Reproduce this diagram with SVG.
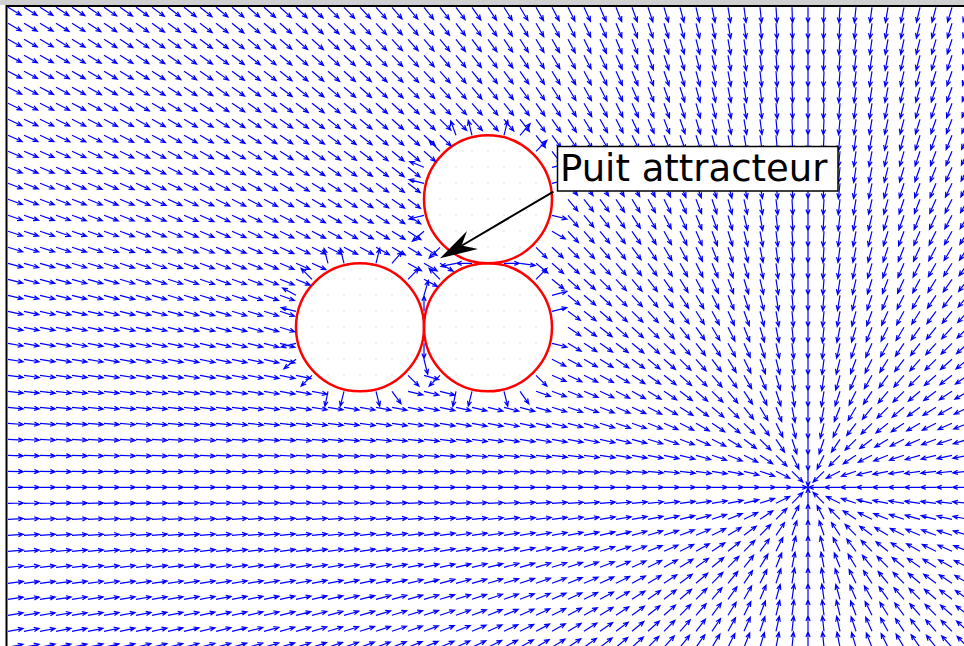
<svg xmlns="http://www.w3.org/2000/svg" width="964" height="646" viewBox="0 0 964 646">
<style>
.f path{fill:none;stroke:none;marker-start:url(#m);marker-mid:url(#m)}
.c path{fill:none;stroke:none;marker-start:url(#m)}
.obs circle{fill:url(#d);stroke:#f00;stroke-width:2.5}
</style>
<defs>
<marker id="m" markerUnits="userSpaceOnUse" orient="auto" overflow="visible" refX="0" refY="0" markerWidth="1" markerHeight="1"><path d="M0 0H.96M.64-.13L.96 0 .64.13" fill="none" stroke="#00f" stroke-width=".075"/></marker>
<pattern id="d" patternUnits="userSpaceOnUse" x="0" y="-0.7" width="16" height="16"><circle cx="8" cy="8" r=".7" fill="#c4c4ff"/></pattern>
</defs>
<rect width="964" height="646" fill="#fff"/>
<rect width="964" height="5" fill="#d0d0d0"/>
<g id="obstacles" class="obs">
<circle cx="488" cy="199.3" r="64"/>
<circle cx="360" cy="327.3" r="64"/>
<circle cx="488" cy="327.3" r="64"/>
</g>
<g id="field" class="f" transform="translate(808 487.3) scale(16)">
<path d="M-50-30 500 300M-49-30 490 300M-48-30 480 300M-47-30 470 300M-46-30 460 300M-45-30 450 300M-44-30 440 300M-43-30 430 300M-42-30 420 300M-41-30 410 300M-40-30 400 300M-39-30 390 300M-38-30 380 300M-37-30 370 300M-36-30 360 300M-35-30 350 300M-34-30 340 300M-33-30 330 300M-32-30 320 300M-31-30 310 300M-30-30 300 300M-29-30 290 300M-28-30 280 300M-27-30 270 300M-26-30 260 300M-25-30 250 300M-24-30 240 300M-23-30 230 300M-22-30 220 300M-21-30 210 300M-20-30 200 300M-19-30 190 300M-18-30 180 300M-17-30 170 300M-16-30 160 300M-15-30 150 300M-14-30 140 300M-13-30 130 300M-12-30 120 300M-11-30 110 300M-10-30 100 300M-9-30 90 300M-8-30 80 300M-7-30 70 300M-6-30 60 300M-5-30 50 300M-4-30 40 300M-3-30 30 300M-2-30 20 300M-1-30 10 300M0-30 0 300M1-30-10 300M2-30-20 300M3-30-30 300M4-30-40 300M5-30-50 300M6-30-60 300M7-30-70 300M8-30-80 300M9-30-90 300M10-30-100 300"/>
<path d="M-50-29 500 290M-49-29 490 290M-48-29 480 290M-47-29 470 290M-46-29 460 290M-45-29 450 290M-44-29 440 290M-43-29 430 290M-42-29 420 290M-41-29 410 290M-40-29 400 290M-39-29 390 290M-38-29 380 290M-37-29 370 290M-36-29 360 290M-35-29 350 290M-34-29 340 290M-33-29 330 290M-32-29 320 290M-31-29 310 290M-30-29 300 290M-29-29 290 290M-28-29 280 290M-27-29 270 290M-26-29 260 290M-25-29 250 290M-24-29 240 290M-23-29 230 290M-22-29 220 290M-21-29 210 290M-20-29 200 290M-19-29 190 290M-18-29 180 290M-17-29 170 290M-16-29 160 290M-15-29 150 290M-14-29 140 290M-13-29 130 290M-12-29 120 290M-11-29 110 290M-10-29 100 290M-9-29 90 290M-8-29 80 290M-7-29 70 290M-6-29 60 290M-5-29 50 290M-4-29 40 290M-3-29 30 290M-2-29 20 290M-1-29 10 290M0-29 0 290M1-29-10 290M2-29-20 290M3-29-30 290M4-29-40 290M5-29-50 290M6-29-60 290M7-29-70 290M8-29-80 290M9-29-90 290M10-29-100 290"/>
<path d="M-50-28 500 280M-49-28 490 280M-48-28 480 280M-47-28 470 280M-46-28 460 280M-45-28 450 280M-44-28 440 280M-43-28 430 280M-42-28 420 280M-41-28 410 280M-40-28 400 280M-39-28 390 280M-38-28 380 280M-37-28 370 280M-36-28 360 280M-35-28 350 280M-34-28 340 280M-33-28 330 280M-32-28 320 280M-31-28 310 280M-30-28 300 280M-29-28 290 280M-28-28 280 280M-27-28 270 280M-26-28 260 280M-25-28 250 280M-24-28 240 280M-23-28 230 280M-22-28 220 280M-21-28 210 280M-20-28 200 280M-19-28 190 280M-18-28 180 280M-17-28 170 280M-16-28 160 280M-15-28 150 280M-14-28 140 280M-13-28 130 280M-12-28 120 280M-11-28 110 280M-10-28 100 280M-9-28 90 280M-8-28 80 280M-7-28 70 280M-6-28 60 280M-5-28 50 280M-4-28 40 280M-3-28 30 280M-2-28 20 280M-1-28 10 280M0-28 0 280M1-28-10 280M2-28-20 280M3-28-30 280M4-28-40 280M5-28-50 280M6-28-60 280M7-28-70 280M8-28-80 280M9-28-90 280M10-28-100 280"/>
<path d="M-50-27 500 270M-49-27 490 270M-48-27 480 270M-47-27 470 270M-46-27 460 270M-45-27 450 270M-44-27 440 270M-43-27 430 270M-42-27 420 270M-41-27 410 270M-40-27 400 270M-39-27 390 270M-38-27 380 270M-37-27 370 270M-36-27 360 270M-35-27 350 270M-34-27 340 270M-33-27 330 270M-32-27 320 270M-31-27 310 270M-30-27 300 270M-29-27 290 270M-28-27 280 270M-27-27 270 270M-26-27 260 270M-25-27 250 270M-24-27 240 270M-23-27 230 270M-22-27 220 270M-21-27 210 270M-20-27 200 270M-19-27 190 270M-18-27 180 270M-17-27 170 270M-16-27 160 270M-15-27 150 270M-14-27 140 270M-13-27 130 270M-12-27 120 270M-11-27 110 270M-10-27 100 270M-9-27 90 270M-8-27 80 270M-7-27 70 270M-6-27 60 270M-5-27 50 270M-4-27 40 270M-3-27 30 270M-2-27 20 270M-1-27 10 270M0-27 0 270M1-27-10 270M2-27-20 270M3-27-30 270M4-27-40 270M5-27-50 270M6-27-60 270M7-27-70 270M8-27-80 270M9-27-90 270M10-27-100 270"/>
<path d="M-50-26 500 260M-49-26 490 260M-48-26 480 260M-47-26 470 260M-46-26 460 260M-45-26 450 260M-44-26 440 260M-43-26 430 260M-42-26 420 260M-41-26 410 260M-40-26 400 260M-39-26 390 260M-38-26 380 260M-37-26 370 260M-36-26 360 260M-35-26 350 260M-34-26 340 260M-33-26 330 260M-32-26 320 260M-31-26 310 260M-30-26 300 260M-29-26 290 260M-28-26 280 260M-27-26 270 260M-26-26 260 260M-25-26 250 260M-24-26 240 260M-23-26 230 260M-22-26 220 260M-21-26 210 260M-20-26 200 260M-19-26 190 260M-18-26 180 260M-17-26 170 260M-16-26 160 260M-15-26 150 260M-14-26 140 260M-13-26 130 260M-12-26 120 260M-11-26 110 260M-10-26 100 260M-9-26 90 260M-8-26 80 260M-7-26 70 260M-6-26 60 260M-5-26 50 260M-4-26 40 260M-3-26 30 260M-2-26 20 260M-1-26 10 260M0-26 0 260M1-26-10 260M2-26-20 260M3-26-30 260M4-26-40 260M5-26-50 260M6-26-60 260M7-26-70 260M8-26-80 260M9-26-90 260M10-26-100 260"/>
<path d="M-50-25 500 250M-49-25 490 250M-48-25 480 250M-47-25 470 250M-46-25 460 250M-45-25 450 250M-44-25 440 250M-43-25 430 250M-42-25 420 250M-41-25 410 250M-40-25 400 250M-39-25 390 250M-38-25 380 250M-37-25 370 250M-36-25 360 250M-35-25 350 250M-34-25 340 250M-33-25 330 250M-32-25 320 250M-31-25 310 250M-30-25 300 250M-29-25 290 250M-28-25 280 250M-27-25 270 250M-26-25 260 250M-25-25 250 250M-24-25 240 250M-23-25 230 250M-22-25 220 250M-21-25 210 250M-20-25 200 250M-19-25 190 250M-18-25 180 250M-17-25 170 250M-16-25 160 250M-15-25 150 250M-14-25 140 250M-13-25 130 250M-12-25 120 250M-11-25 110 250M-10-25 100 250M-9-25 90 250M-8-25 80 250M-7-25 70 250M-6-25 60 250M-5-25 50 250M-4-25 40 250M-3-25 30 250M-2-25 20 250M-1-25 10 250M0-25 0 250M1-25-10 250M2-25-20 250M3-25-30 250M4-25-40 250M5-25-50 250M6-25-60 250M7-25-70 250M8-25-80 250M9-25-90 250M10-25-100 250"/>
<path d="M-50-24 500 240M-49-24 490 240M-48-24 480 240M-47-24 470 240M-46-24 460 240M-45-24 450 240M-44-24 440 240M-43-24 430 240M-42-24 420 240M-41-24 410 240M-40-24 400 240M-39-24 390 240M-38-24 380 240M-37-24 370 240M-36-24 360 240M-35-24 350 240M-34-24 340 240M-33-24 330 240M-32-24 320 240M-31-24 310 240M-30-24 300 240M-29-24 290 240M-28-24 280 240M-27-24 270 240M-26-24 260 240M-25-24 250 240M-24-24 240 240M-23-24 230 240M-22-24 220 240M-21-24 210 240M-20-24 200 240M-19-24 190 240M-18-24 180 240M-17-24 170 240M-16-24 160 240M-15-24 150 240M-14-24 140 240M-13-24 130 240M-12-24 120 240M-11-24 110 240M-10-24 100 240M-9-24 90 240M-8-24 80 240M-7-24 70 240M-6-24 60 240M-5-24 50 240M-4-24 40 240M-3-24 30 240M-2-24 20 240M-1-24 10 240M0-24 0 240M1-24-10 240M2-24-20 240M3-24-30 240M4-24-40 240M5-24-50 240M6-24-60 240M7-24-70 240M8-24-80 240M9-24-90 240M10-24-100 240"/>
<path d="M-50-23 500 230M-49-23 490 230M-48-23 480 230M-47-23 470 230M-46-23 460 230M-45-23 450 230M-44-23 440 230M-43-23 430 230M-42-23 420 230M-41-23 410 230M-40-23 400 230M-39-23 390 230M-38-23 380 230M-37-23 370 230M-36-23 360 230M-35-23 350 230M-34-23 340 230M-33-23 330 230M-32-23 320 230M-31-23 310 230M-30-23 300 230M-29-23 290 230M-28-23 280 230M-27-23 270 230M-26-23 260 230M-25-23 250 230M-24-23 240 230M-23-23 230 230M-22-23 220 230M-21-23 210 230M-20-23 200 230M-19-23 190 230M-18-23 180 230M-17-23 170 230M-16-23 160 230M-15-23 150 230M-14-23 140 230M-13-23 130 230M-12-23 120 230M-11-23 110 230M-10-23 100 230M-9-23 90 230M-8-23 80 230M-7-23 70 230M-6-23 60 230M-5-23 50 230M-4-23 40 230M-3-23 30 230M-2-23 20 230M-1-23 10 230M0-23 0 230M1-23-10 230M2-23-20 230M3-23-30 230M4-23-40 230M5-23-50 230M6-23-60 230M7-23-70 230M8-23-80 230M9-23-90 230M10-23-100 230"/>
<path d="M-50-22 500 220M-49-22 490 220M-48-22 480 220M-47-22 470 220M-46-22 460 220M-45-22 450 220M-44-22 440 220M-43-22 430 220M-42-22 420 220M-41-22 410 220M-40-22 400 220M-39-22 390 220M-38-22 380 220M-37-22 370 220M-36-22 360 220M-35-22 350 220M-34-22 340 220M-33-22 330 220M-32-22 320 220M-31-22 310 220M-30-22 300 220M-29-22 290 220M-28-22 280 220M-27-22 270 220M-26-22 260 220M-25-22 250 220M-24-22 240 220M-23-22 230 220M-17-22 170 220M-16-22 160 220M-15-22 150 220M-14-22 140 220M-13-22 130 220M-12-22 120 220M-11-22 110 220M-10-22 100 220M-9-22 90 220M-8-22 80 220M-7-22 70 220M-6-22 60 220M-5-22 50 220M-4-22 40 220M-3-22 30 220M-2-22 20 220M-1-22 10 220M0-22 0 220M1-22-10 220M2-22-20 220M3-22-30 220M4-22-40 220M5-22-50 220M6-22-60 220M7-22-70 220M8-22-80 220M9-22-90 220M10-22-100 220"/>
<path d="M-50-21 500 210M-49-21 490 210M-48-21 480 210M-47-21 470 210M-46-21 460 210M-45-21 450 210M-44-21 440 210M-43-21 430 210M-42-21 420 210M-41-21 410 210M-40-21 400 210M-39-21 390 210M-38-21 380 210M-37-21 370 210M-36-21 360 210M-35-21 350 210M-34-21 340 210M-33-21 330 210M-32-21 320 210M-31-21 310 210M-30-21 300 210M-29-21 290 210M-28-21 280 210M-27-21 270 210M-26-21 260 210M-25-21 250 210M-24-21 240 210M-16-21 160 210M-15-21 150 210M-14-21 140 210M-13-21 130 210M-12-21 120 210M-11-21 110 210M-10-21 100 210M-9-21 90 210M-8-21 80 210M-7-21 70 210M-6-21 60 210M-5-21 50 210M-4-21 40 210M-3-21 30 210M-2-21 20 210M-1-21 10 210M0-21 0 210M1-21-10 210M2-21-20 210M3-21-30 210M4-21-40 210M5-21-50 210M6-21-60 210M7-21-70 210M8-21-80 210M9-21-90 210M10-21-100 210"/>
<path d="M-50-20 500 200M-49-20 490 200M-48-20 480 200M-47-20 470 200M-46-20 460 200M-45-20 450 200M-44-20 440 200M-43-20 430 200M-42-20 420 200M-41-20 410 200M-40-20 400 200M-39-20 390 200M-38-20 380 200M-37-20 370 200M-36-20 360 200M-35-20 350 200M-34-20 340 200M-33-20 330 200M-32-20 320 200M-31-20 310 200M-30-20 300 200M-29-20 290 200M-28-20 280 200M-27-20 270 200M-26-20 260 200M-25-20 250 200M-15-20 150 200M-14-20 140 200M-13-20 130 200M-12-20 120 200M-11-20 110 200M-10-20 100 200M-9-20 90 200M-8-20 80 200M-7-20 70 200M-6-20 60 200M-5-20 50 200M-4-20 40 200M-3-20 30 200M-2-20 20 200M-1-20 10 200M0-20 0 200M1-20-10 200M2-20-20 200M3-20-30 200M4-20-40 200M5-20-50 200M6-20-60 200M7-20-70 200M8-20-80 200M9-20-90 200M10-20-100 200"/>
<path d="M-50-19 500 190M-49-19 490 190M-48-19 480 190M-47-19 470 190M-46-19 460 190M-45-19 450 190M-44-19 440 190M-43-19 430 190M-42-19 420 190M-41-19 410 190M-40-19 400 190M-39-19 390 190M-38-19 380 190M-37-19 370 190M-36-19 360 190M-35-19 350 190M-34-19 340 190M-33-19 330 190M-32-19 320 190M-31-19 310 190M-30-19 300 190M-29-19 290 190M-28-19 280 190M-27-19 270 190M-26-19 260 190M-25-19 250 190M-15-19 150 190M-14-19 140 190M-13-19 130 190M-12-19 120 190M-11-19 110 190M-10-19 100 190M-9-19 90 190M-8-19 80 190M-7-19 70 190M-6-19 60 190M-5-19 50 190M-4-19 40 190M-3-19 30 190M-2-19 20 190M-1-19 10 190M0-19 0 190M1-19-10 190M2-19-20 190M3-19-30 190M4-19-40 190M5-19-50 190M6-19-60 190M7-19-70 190M8-19-80 190M9-19-90 190M10-19-100 190"/>
<path d="M-50-18 500 180M-49-18 490 180M-48-18 480 180M-47-18 470 180M-46-18 460 180M-45-18 450 180M-44-18 440 180M-43-18 430 180M-42-18 420 180M-41-18 410 180M-40-18 400 180M-39-18 390 180M-38-18 380 180M-37-18 370 180M-36-18 360 180M-35-18 350 180M-34-18 340 180M-33-18 330 180M-32-18 320 180M-31-18 310 180M-30-18 300 180M-29-18 290 180M-28-18 280 180M-27-18 270 180M-26-18 260 180M-25-18 250 180M-15-18 150 180M-14-18 140 180M-13-18 130 180M-12-18 120 180M-11-18 110 180M-10-18 100 180M-9-18 90 180M-8-18 80 180M-7-18 70 180M-6-18 60 180M-5-18 50 180M-4-18 40 180M-3-18 30 180M-2-18 20 180M-1-18 10 180M0-18 0 180M1-18-10 180M2-18-20 180M3-18-30 180M4-18-40 180M5-18-50 180M6-18-60 180M7-18-70 180M8-18-80 180M9-18-90 180M10-18-100 180"/>
<path d="M-50-17 500 170M-49-17 490 170M-48-17 480 170M-47-17 470 170M-46-17 460 170M-45-17 450 170M-44-17 440 170M-43-17 430 170M-42-17 420 170M-41-17 410 170M-40-17 400 170M-39-17 390 170M-38-17 380 170M-37-17 370 170M-36-17 360 170M-35-17 350 170M-34-17 340 170M-33-17 330 170M-32-17 320 170M-31-17 310 170M-30-17 300 170M-29-17 290 170M-28-17 280 170M-27-17 270 170M-26-17 260 170M-25-17 250 170M-15-17 150 170M-14-17 140 170M-13-17 130 170M-12-17 120 170M-11-17 110 170M-10-17 100 170M-9-17 90 170M-8-17 80 170M-7-17 70 170M-6-17 60 170M-5-17 50 170M-4-17 40 170M-3-17 30 170M-2-17 20 170M-1-17 10 170M0-17 0 170M1-17-10 170M2-17-20 170M3-17-30 170M4-17-40 170M5-17-50 170M6-17-60 170M7-17-70 170M8-17-80 170M9-17-90 170M10-17-100 170"/>
<path d="M-50-16 500 160M-49-16 490 160M-48-16 480 160M-47-16 470 160M-46-16 460 160M-45-16 450 160M-44-16 440 160M-43-16 430 160M-42-16 420 160M-41-16 410 160M-40-16 400 160M-39-16 390 160M-38-16 380 160M-37-16 370 160M-36-16 360 160M-35-16 350 160M-34-16 340 160M-33-16 330 160M-32-16 320 160M-31-16 310 160M-30-16 300 160M-29-16 290 160M-28-16 280 160M-27-16 270 160M-26-16 260 160M-25-16 250 160M-15-16 150 160M-14-16 140 160M-13-16 130 160M-12-16 120 160M-11-16 110 160M-10-16 100 160M-9-16 90 160M-8-16 80 160M-7-16 70 160M-6-16 60 160M-5-16 50 160M-4-16 40 160M-3-16 30 160M-2-16 20 160M-1-16 10 160M0-16 0 160M1-16-10 160M2-16-20 160M3-16-30 160M4-16-40 160M5-16-50 160M6-16-60 160M7-16-70 160M8-16-80 160M9-16-90 160M10-16-100 160"/>
<path d="M-50-15 500 150M-49-15 490 150M-48-15 480 150M-47-15 470 150M-46-15 460 150M-45-15 450 150M-44-15 440 150M-43-15 430 150M-42-15 420 150M-41-15 410 150M-40-15 400 150M-39-15 390 150M-38-15 380 150M-37-15 370 150M-36-15 360 150M-35-15 350 150M-34-15 340 150M-33-15 330 150M-32-15 320 150M-31-15 310 150M-30-15 300 150M-29-15 290 150M-28-15 280 150M-27-15 270 150M-26-15 260 150M-25-15 250 150M-24-15 240 150M-16-15 160 150M-15-15 150 150M-14-15 140 150M-13-15 130 150M-12-15 120 150M-11-15 110 150M-10-15 100 150M-9-15 90 150M-8-15 80 150M-7-15 70 150M-6-15 60 150M-5-15 50 150M-4-15 40 150M-3-15 30 150M-2-15 20 150M-1-15 10 150M0-15 0 150M1-15-10 150M2-15-20 150M3-15-30 150M4-15-40 150M5-15-50 150M6-15-60 150M7-15-70 150M8-15-80 150M9-15-90 150M10-15-100 150"/>
<path d="M-50-14 500 140M-49-14 490 140M-48-14 480 140M-47-14 470 140M-46-14 460 140M-45-14 450 140M-44-14 440 140M-43-14 430 140M-42-14 420 140M-41-14 410 140M-40-14 400 140M-39-14 390 140M-38-14 380 140M-37-14 370 140M-36-14 360 140M-35-14 350 140M-34-14 340 140M-33-14 330 140M-32-14 320 140M-31-14 310 140M-25-14 250 140M-24-14 240 140M-23-14 230 140M-17-14 170 140M-16-14 160 140M-15-14 150 140M-14-14 140 140M-13-14 130 140M-12-14 120 140M-11-14 110 140M-10-14 100 140M-9-14 90 140M-8-14 80 140M-7-14 70 140M-6-14 60 140M-5-14 50 140M-4-14 40 140M-3-14 30 140M-2-14 20 140M-1-14 10 140M0-14 0 140M1-14-10 140M2-14-20 140M3-14-30 140M4-14-40 140M5-14-50 140M6-14-60 140M7-14-70 140M8-14-80 140M9-14-90 140M10-14-100 140"/>
<path d="M-50-13 500 130M-49-13 490 130M-48-13 480 130M-47-13 470 130M-46-13 460 130M-45-13 450 130M-44-13 440 130M-43-13 430 130M-42-13 420 130M-41-13 410 130M-40-13 400 130M-39-13 390 130M-38-13 380 130M-37-13 370 130M-36-13 360 130M-35-13 350 130M-34-13 340 130M-33-13 330 130M-32-13 320 130M-24-13 240 130M-16-13 160 130M-15-13 150 130M-14-13 140 130M-13-13 130 130M-12-13 120 130M-11-13 110 130M-10-13 100 130M-9-13 90 130M-8-13 80 130M-7-13 70 130M-6-13 60 130M-5-13 50 130M-4-13 40 130M-3-13 30 130M-2-13 20 130M-1-13 10 130M0-13 0 130M1-13-10 130M2-13-20 130M3-13-30 130M4-13-40 130M5-13-50 130M6-13-60 130M7-13-70 130M8-13-80 130M9-13-90 130M10-13-100 130"/>
<path d="M-50-12 500 120M-49-12 490 120M-48-12 480 120M-47-12 470 120M-46-12 460 120M-45-12 450 120M-44-12 440 120M-43-12 430 120M-42-12 420 120M-41-12 410 120M-40-12 400 120M-39-12 390 120M-38-12 380 120M-37-12 370 120M-36-12 360 120M-35-12 350 120M-34-12 340 120M-33-12 330 120M-15-12 150 120M-14-12 140 120M-13-12 130 120M-12-12 120 120M-11-12 110 120M-10-12 100 120M-9-12 90 120M-8-12 80 120M-7-12 70 120M-6-12 60 120M-5-12 50 120M-4-12 40 120M-3-12 30 120M-2-12 20 120M-1-12 10 120M0-12 0 120M1-12-10 120M2-12-20 120M3-12-30 120M4-12-40 120M5-12-50 120M6-12-60 120M7-12-70 120M8-12-80 120M9-12-90 120M10-12-100 120"/>
<path d="M-50-11 500 110M-49-11 490 110M-48-11 480 110M-47-11 470 110M-46-11 460 110M-45-11 450 110M-44-11 440 110M-43-11 430 110M-42-11 420 110M-41-11 410 110M-40-11 400 110M-39-11 390 110M-38-11 380 110M-37-11 370 110M-36-11 360 110M-35-11 350 110M-34-11 340 110M-33-11 330 110M-15-11 150 110M-14-11 140 110M-13-11 130 110M-12-11 120 110M-11-11 110 110M-10-11 100 110M-9-11 90 110M-8-11 80 110M-7-11 70 110M-6-11 60 110M-5-11 50 110M-4-11 40 110M-3-11 30 110M-2-11 20 110M-1-11 10 110M0-11 0 110M1-11-10 110M2-11-20 110M3-11-30 110M4-11-40 110M5-11-50 110M6-11-60 110M7-11-70 110M8-11-80 110M9-11-90 110M10-11-100 110"/>
<path d="M-50-10 500 100M-49-10 490 100M-48-10 480 100M-47-10 470 100M-46-10 460 100M-45-10 450 100M-44-10 440 100M-43-10 430 100M-42-10 420 100M-41-10 410 100M-40-10 400 100M-39-10 390 100M-38-10 380 100M-37-10 370 100M-36-10 360 100M-35-10 350 100M-34-10 340 100M-33-10 330 100M-15-10 150 100M-14-10 140 100M-13-10 130 100M-12-10 120 100M-11-10 110 100M-10-10 100 100M-9-10 90 100M-8-10 80 100M-7-10 70 100M-6-10 60 100M-5-10 50 100M-4-10 40 100M-3-10 30 100M-2-10 20 100M-1-10 10 100M0-10 0 100M1-10-10 100M2-10-20 100M3-10-30 100M4-10-40 100M5-10-50 100M6-10-60 100M7-10-70 100M8-10-80 100M9-10-90 100M10-10-100 100"/>
<path d="M-50-9 500 90M-49-9 490 90M-48-9 480 90M-47-9 470 90M-46-9 460 90M-45-9 450 90M-44-9 440 90M-43-9 430 90M-42-9 420 90M-41-9 410 90M-40-9 400 90M-39-9 390 90M-38-9 380 90M-37-9 370 90M-36-9 360 90M-35-9 350 90M-34-9 340 90M-33-9 330 90M-15-9 150 90M-14-9 140 90M-13-9 130 90M-12-9 120 90M-11-9 110 90M-10-9 100 90M-9-9 90 90M-8-9 80 90M-7-9 70 90M-6-9 60 90M-5-9 50 90M-4-9 40 90M-3-9 30 90M-2-9 20 90M-1-9 10 90M0-9 0 90M1-9-10 90M2-9-20 90M3-9-30 90M4-9-40 90M5-9-50 90M6-9-60 90M7-9-70 90M8-9-80 90M9-9-90 90M10-9-100 90"/>
<path d="M-50-8 500 80M-49-8 490 80M-48-8 480 80M-47-8 470 80M-46-8 460 80M-45-8 450 80M-44-8 440 80M-43-8 430 80M-42-8 420 80M-41-8 410 80M-40-8 400 80M-39-8 390 80M-38-8 380 80M-37-8 370 80M-36-8 360 80M-35-8 350 80M-34-8 340 80M-33-8 330 80M-15-8 150 80M-14-8 140 80M-13-8 130 80M-12-8 120 80M-11-8 110 80M-10-8 100 80M-9-8 90 80M-8-8 80 80M-7-8 70 80M-6-8 60 80M-5-8 50 80M-4-8 40 80M-3-8 30 80M-2-8 20 80M-1-8 10 80M0-8 0 80M1-8-10 80M2-8-20 80M3-8-30 80M4-8-40 80M5-8-50 80M6-8-60 80M7-8-70 80M8-8-80 80M9-8-90 80M10-8-100 80"/>
<path d="M-50-7 500 70M-49-7 490 70M-48-7 480 70M-47-7 470 70M-46-7 460 70M-45-7 450 70M-44-7 440 70M-43-7 430 70M-42-7 420 70M-41-7 410 70M-40-7 400 70M-39-7 390 70M-38-7 380 70M-37-7 370 70M-36-7 360 70M-35-7 350 70M-34-7 340 70M-33-7 330 70M-32-7 320 70M-24-7 240 70M-16-7 160 70M-15-7 150 70M-14-7 140 70M-13-7 130 70M-12-7 120 70M-11-7 110 70M-10-7 100 70M-9-7 90 70M-8-7 80 70M-7-7 70 70M-6-7 60 70M-5-7 50 70M-4-7 40 70M-3-7 30 70M-2-7 20 70M-1-7 10 70M0-7 0 70M1-7-10 70M2-7-20 70M3-7-30 70M4-7-40 70M5-7-50 70M6-7-60 70M7-7-70 70M8-7-80 70M9-7-90 70M10-7-100 70"/>
<path d="M-50-6 500 60M-49-6 490 60M-48-6 480 60M-47-6 470 60M-46-6 460 60M-45-6 450 60M-44-6 440 60M-43-6 430 60M-42-6 420 60M-41-6 410 60M-40-6 400 60M-39-6 390 60M-38-6 380 60M-37-6 370 60M-36-6 360 60M-35-6 350 60M-34-6 340 60M-33-6 330 60M-32-6 320 60M-31-6 310 60M-25-6 250 60M-24-6 240 60M-23-6 230 60M-17-6 170 60M-16-6 160 60M-15-6 150 60M-14-6 140 60M-13-6 130 60M-12-6 120 60M-11-6 110 60M-10-6 100 60M-9-6 90 60M-8-6 80 60M-7-6 70 60M-6-6 60 60M-5-6 50 60M-4-6 40 60M-3-6 30 60M-2-6 20 60M-1-6 10 60M0-6 0 60M1-6-10 60M2-6-20 60M3-6-30 60M4-6-40 60M5-6-50 60M6-6-60 60M7-6-70 60M8-6-80 60M9-6-90 60M10-6-100 60"/>
<path d="M-50-5 500 50M-49-5 490 50M-48-5 480 50M-47-5 470 50M-46-5 460 50M-45-5 450 50M-44-5 440 50M-43-5 430 50M-42-5 420 50M-41-5 410 50M-40-5 400 50M-39-5 390 50M-38-5 380 50M-37-5 370 50M-36-5 360 50M-35-5 350 50M-34-5 340 50M-33-5 330 50M-32-5 320 50M-31-5 310 50M-30-5 300 50M-29-5 290 50M-28-5 280 50M-27-5 270 50M-26-5 260 50M-25-5 250 50M-24-5 240 50M-23-5 230 50M-22-5 220 50M-21-5 210 50M-20-5 200 50M-19-5 190 50M-18-5 180 50M-17-5 170 50M-16-5 160 50M-15-5 150 50M-14-5 140 50M-13-5 130 50M-12-5 120 50M-11-5 110 50M-10-5 100 50M-9-5 90 50M-8-5 80 50M-7-5 70 50M-6-5 60 50M-5-5 50 50M-4-5 40 50M-3-5 30 50M-2-5 20 50M-1-5 10 50M0-5 0 50M1-5-10 50M2-5-20 50M3-5-30 50M4-5-40 50M5-5-50 50M6-5-60 50M7-5-70 50M8-5-80 50M9-5-90 50M10-5-100 50"/>
<path d="M-50-4 500 40M-49-4 490 40M-48-4 480 40M-47-4 470 40M-46-4 460 40M-45-4 450 40M-44-4 440 40M-43-4 430 40M-42-4 420 40M-41-4 410 40M-40-4 400 40M-39-4 390 40M-38-4 380 40M-37-4 370 40M-36-4 360 40M-35-4 350 40M-34-4 340 40M-33-4 330 40M-32-4 320 40M-31-4 310 40M-30-4 300 40M-29-4 290 40M-28-4 280 40M-27-4 270 40M-26-4 260 40M-25-4 250 40M-24-4 240 40M-23-4 230 40M-22-4 220 40M-21-4 210 40M-20-4 200 40M-19-4 190 40M-18-4 180 40M-17-4 170 40M-16-4 160 40M-15-4 150 40M-14-4 140 40M-13-4 130 40M-12-4 120 40M-11-4 110 40M-10-4 100 40M-9-4 90 40M-8-4 80 40M-7-4 70 40M-6-4 60 40M-5-4 50 40M-4-4 40 40M-3-4 30 40M-2-4 20 40M-1-4 10 40M0-4 0 40M1-4-10 40M2-4-20 40M3-4-30 40M4-4-40 40M5-4-50 40M6-4-60 40M7-4-70 40M8-4-80 40M9-4-90 40M10-4-100 40"/>
<path d="M-50-3 500 30M-49-3 490 30M-48-3 480 30M-47-3 470 30M-46-3 460 30M-45-3 450 30M-44-3 440 30M-43-3 430 30M-42-3 420 30M-41-3 410 30M-40-3 400 30M-39-3 390 30M-38-3 380 30M-37-3 370 30M-36-3 360 30M-35-3 350 30M-34-3 340 30M-33-3 330 30M-32-3 320 30M-31-3 310 30M-30-3 300 30M-29-3 290 30M-28-3 280 30M-27-3 270 30M-26-3 260 30M-25-3 250 30M-24-3 240 30M-23-3 230 30M-22-3 220 30M-21-3 210 30M-20-3 200 30M-19-3 190 30M-18-3 180 30M-17-3 170 30M-16-3 160 30M-15-3 150 30M-14-3 140 30M-13-3 130 30M-12-3 120 30M-11-3 110 30M-10-3 100 30M-9-3 90 30M-8-3 80 30M-7-3 70 30M-6-3 60 30M-5-3 50 30M-4-3 40 30M-3-3 30 30M-2-3 20 30M-1-3 10 30M0-3 0 30M1-3-10 30M2-3-20 30M3-3-30 30M4-3-40 30M5-3-50 30M6-3-60 30M7-3-70 30M8-3-80 30M9-3-90 30M10-3-100 30"/>
<path d="M-50-2 500 20M-49-2 490 20M-48-2 480 20M-47-2 470 20M-46-2 460 20M-45-2 450 20M-44-2 440 20M-43-2 430 20M-42-2 420 20M-41-2 410 20M-40-2 400 20M-39-2 390 20M-38-2 380 20M-37-2 370 20M-36-2 360 20M-35-2 350 20M-34-2 340 20M-33-2 330 20M-32-2 320 20M-31-2 310 20M-30-2 300 20M-29-2 290 20M-28-2 280 20M-27-2 270 20M-26-2 260 20M-25-2 250 20M-24-2 240 20M-23-2 230 20M-22-2 220 20M-21-2 210 20M-20-2 200 20M-19-2 190 20M-18-2 180 20M-17-2 170 20M-16-2 160 20M-15-2 150 20M-14-2 140 20M-13-2 130 20M-12-2 120 20M-11-2 110 20M-10-2 100 20M-9-2 90 20M-8-2 80 20M-7-2 70 20M-6-2 60 20M-5-2 50 20M-4-2 40 20M-3-2 30 20M-2-2 20 20M-1-2 10 20M0-2 0 20M1-2-10 20M2-2-20 20M3-2-30 20M4-2-40 20M5-2-50 20M6-2-60 20M7-2-70 20M8-2-80 20M9-2-90 20M10-2-100 20"/>
<path d="M-50-1 500 10M-49-1 490 10M-48-1 480 10M-47-1 470 10M-46-1 460 10M-45-1 450 10M-44-1 440 10M-43-1 430 10M-42-1 420 10M-41-1 410 10M-40-1 400 10M-39-1 390 10M-38-1 380 10M-37-1 370 10M-36-1 360 10M-35-1 350 10M-34-1 340 10M-33-1 330 10M-32-1 320 10M-31-1 310 10M-30-1 300 10M-29-1 290 10M-28-1 280 10M-27-1 270 10M-26-1 260 10M-25-1 250 10M-24-1 240 10M-23-1 230 10M-22-1 220 10M-21-1 210 10M-20-1 200 10M-19-1 190 10M-18-1 180 10M-17-1 170 10M-16-1 160 10M-15-1 150 10M-14-1 140 10M-13-1 130 10M-12-1 120 10M-11-1 110 10M-10-1 100 10M-9-1 90 10M-8-1 80 10M-7-1 70 10M-6-1 60 10M-5-1 50 10M-4-1 40 10M-3-1 30 10M-2-1 20 10M-1-1 10 10M0-1 0 10M1-1-10 10M2-1-20 10M3-1-30 10M4-1-40 10M5-1-50 10M6-1-60 10M7-1-70 10M8-1-80 10M9-1-90 10M10-1-100 10"/>
<path d="M-50 0 500 0M-49 0 490 0M-48 0 480 0M-47 0 470 0M-46 0 460 0M-45 0 450 0M-44 0 440 0M-43 0 430 0M-42 0 420 0M-41 0 410 0M-40 0 400 0M-39 0 390 0M-38 0 380 0M-37 0 370 0M-36 0 360 0M-35 0 350 0M-34 0 340 0M-33 0 330 0M-32 0 320 0M-31 0 310 0M-30 0 300 0M-29 0 290 0M-28 0 280 0M-27 0 270 0M-26 0 260 0M-25 0 250 0M-24 0 240 0M-23 0 230 0M-22 0 220 0M-21 0 210 0M-20 0 200 0M-19 0 190 0M-18 0 180 0M-17 0 170 0M-16 0 160 0M-15 0 150 0M-14 0 140 0M-13 0 130 0M-12 0 120 0M-11 0 110 0M-10 0 100 0M-9 0 90 0M-8 0 80 0M-7 0 70 0M-6 0 60 0M-5 0 50 0M-4 0 40 0M-3 0 30 0M-2 0 20 0M-1 0 10 0M1 0-100 0M2 0-200 0M3 0-300 0M4 0-400 0M5 0-500 0M6 0-600 0M7 0-700 0M8 0-800 0M9 0-900 0M10 0-1000 0"/>
<path d="M-50 1 500-10M-49 1 490-10M-48 1 480-10M-47 1 470-10M-46 1 460-10M-45 1 450-10M-44 1 440-10M-43 1 430-10M-42 1 420-10M-41 1 410-10M-40 1 400-10M-39 1 390-10M-38 1 380-10M-37 1 370-10M-36 1 360-10M-35 1 350-10M-34 1 340-10M-33 1 330-10M-32 1 320-10M-31 1 310-10M-30 1 300-10M-29 1 290-10M-28 1 280-10M-27 1 270-10M-26 1 260-10M-25 1 250-10M-24 1 240-10M-23 1 230-10M-22 1 220-10M-21 1 210-10M-20 1 200-10M-19 1 190-10M-18 1 180-10M-17 1 170-10M-16 1 160-10M-15 1 150-10M-14 1 140-10M-13 1 130-10M-12 1 120-10M-11 1 110-10M-10 1 100-10M-9 1 90-10M-8 1 80-10M-7 1 70-10M-6 1 60-10M-5 1 50-10M-4 1 40-10M-3 1 30-10M-2 1 20-10M-1 1 10-10M0 1 0-100M1 1-100-100M2 1-200-100M3 1-300-100M4 1-400-100M5 1-500-100M6 1-600-100M7 1-700-100M8 1-800-100M9 1-900-100M10 1-1000-100"/>
<path d="M-50 2 500-20M-49 2 490-20M-48 2 480-20M-47 2 470-20M-46 2 460-20M-45 2 450-20M-44 2 440-20M-43 2 430-20M-42 2 420-20M-41 2 410-20M-40 2 400-20M-39 2 390-20M-38 2 380-20M-37 2 370-20M-36 2 360-20M-35 2 350-20M-34 2 340-20M-33 2 330-20M-32 2 320-20M-31 2 310-20M-30 2 300-20M-29 2 290-20M-28 2 280-20M-27 2 270-20M-26 2 260-20M-25 2 250-20M-24 2 240-20M-23 2 230-20M-22 2 220-20M-21 2 210-20M-20 2 200-20M-19 2 190-20M-18 2 180-20M-17 2 170-20M-16 2 160-20M-15 2 150-20M-14 2 140-20M-13 2 130-20M-12 2 120-20M-11 2 110-20M-10 2 100-20M-9 2 90-20M-8 2 80-20M-7 2 70-20M-6 2 60-20M-5 2 50-20M-4 2 40-20M-3 2 30-20M-2 2 20-20M-1 2 10-20M0 2 0-200M1 2-100-200M2 2-200-200M3 2-300-200M4 2-400-200M5 2-500-200M6 2-600-200M7 2-700-200M8 2-800-200M9 2-900-200M10 2-1000-200"/>
<path d="M-50 3 500-30M-49 3 490-30M-48 3 480-30M-47 3 470-30M-46 3 460-30M-45 3 450-30M-44 3 440-30M-43 3 430-30M-42 3 420-30M-41 3 410-30M-40 3 400-30M-39 3 390-30M-38 3 380-30M-37 3 370-30M-36 3 360-30M-35 3 350-30M-34 3 340-30M-33 3 330-30M-32 3 320-30M-31 3 310-30M-30 3 300-30M-29 3 290-30M-28 3 280-30M-27 3 270-30M-26 3 260-30M-25 3 250-30M-24 3 240-30M-23 3 230-30M-22 3 220-30M-21 3 210-30M-20 3 200-30M-19 3 190-30M-18 3 180-30M-17 3 170-30M-16 3 160-30M-15 3 150-30M-14 3 140-30M-13 3 130-30M-12 3 120-30M-11 3 110-30M-10 3 100-30M-9 3 90-30M-8 3 80-30M-7 3 70-30M-6 3 60-30M-5 3 50-30M-4 3 40-30M-3 3 30-30M-2 3 20-30M-1 3 10-30M0 3 0-300M1 3-100-300M2 3-200-300M3 3-300-300M4 3-400-300M5 3-500-300M6 3-600-300M7 3-700-300M8 3-800-300M9 3-900-300M10 3-1000-300"/>
<path d="M-50 4 500-40M-49 4 490-40M-48 4 480-40M-47 4 470-40M-46 4 460-40M-45 4 450-40M-44 4 440-40M-43 4 430-40M-42 4 420-40M-41 4 410-40M-40 4 400-40M-39 4 390-40M-38 4 380-40M-37 4 370-40M-36 4 360-40M-35 4 350-40M-34 4 340-40M-33 4 330-40M-32 4 320-40M-31 4 310-40M-30 4 300-40M-29 4 290-40M-28 4 280-40M-27 4 270-40M-26 4 260-40M-25 4 250-40M-24 4 240-40M-23 4 230-40M-22 4 220-40M-21 4 210-40M-20 4 200-40M-19 4 190-40M-18 4 180-40M-17 4 170-40M-16 4 160-40M-15 4 150-40M-14 4 140-40M-13 4 130-40M-12 4 120-40M-11 4 110-40M-10 4 100-40M-9 4 90-40M-8 4 80-40M-7 4 70-40M-6 4 60-40M-5 4 50-40M-4 4 40-40M-3 4 30-40M-2 4 20-40M-1 4 10-40M0 4 0-400M1 4-100-400M2 4-200-400M3 4-300-400M4 4-400-400M5 4-500-400M6 4-600-400M7 4-700-400M8 4-800-400M9 4-900-400M10 4-1000-400"/>
<path d="M-50 5 500-50M-49 5 490-50M-48 5 480-50M-47 5 470-50M-46 5 460-50M-45 5 450-50M-44 5 440-50M-43 5 430-50M-42 5 420-50M-41 5 410-50M-40 5 400-50M-39 5 390-50M-38 5 380-50M-37 5 370-50M-36 5 360-50M-35 5 350-50M-34 5 340-50M-33 5 330-50M-32 5 320-50M-31 5 310-50M-30 5 300-50M-29 5 290-50M-28 5 280-50M-27 5 270-50M-26 5 260-50M-25 5 250-50M-24 5 240-50M-23 5 230-50M-22 5 220-50M-21 5 210-50M-20 5 200-50M-19 5 190-50M-18 5 180-50M-17 5 170-50M-16 5 160-50M-15 5 150-50M-14 5 140-50M-13 5 130-50M-12 5 120-50M-11 5 110-50M-10 5 100-50M-9 5 90-50M-8 5 80-50M-7 5 70-50M-6 5 60-50M-5 5 50-50M-4 5 40-50M-3 5 30-50M-2 5 20-50M-1 5 10-50M0 5 0-500M1 5-100-500M2 5-200-500M3 5-300-500M4 5-400-500M5 5-500-500M6 5-600-500M7 5-700-500M8 5-800-500M9 5-900-500M10 5-1000-500"/>
<path d="M-50 6 500-60M-49 6 490-60M-48 6 480-60M-47 6 470-60M-46 6 460-60M-45 6 450-60M-44 6 440-60M-43 6 430-60M-42 6 420-60M-41 6 410-60M-40 6 400-60M-39 6 390-60M-38 6 380-60M-37 6 370-60M-36 6 360-60M-35 6 350-60M-34 6 340-60M-33 6 330-60M-32 6 320-60M-31 6 310-60M-30 6 300-60M-29 6 290-60M-28 6 280-60M-27 6 270-60M-26 6 260-60M-25 6 250-60M-24 6 240-60M-23 6 230-60M-22 6 220-60M-21 6 210-60M-20 6 200-60M-19 6 190-60M-18 6 180-60M-17 6 170-60M-16 6 160-60M-15 6 150-60M-14 6 140-60M-13 6 130-60M-12 6 120-60M-11 6 110-60M-10 6 100-60M-9 6 90-60M-8 6 80-60M-7 6 70-60M-6 6 60-60M-5 6 50-60M-4 6 40-60M-3 6 30-60M-2 6 20-60M-1 6 10-60M0 6 0-600M1 6-100-600M2 6-200-600M3 6-300-600M4 6-400-600M5 6-500-600M6 6-600-600M7 6-700-600M8 6-800-600M9 6-900-600M10 6-1000-600"/>
<path d="M-50 7 500-70M-49 7 490-70M-48 7 480-70M-47 7 470-70M-46 7 460-70M-45 7 450-70M-44 7 440-70M-43 7 430-70M-42 7 420-70M-41 7 410-70M-40 7 400-70M-39 7 390-70M-38 7 380-70M-37 7 370-70M-36 7 360-70M-35 7 350-70M-34 7 340-70M-33 7 330-70M-32 7 320-70M-31 7 310-70M-30 7 300-70M-29 7 290-70M-28 7 280-70M-27 7 270-70M-26 7 260-70M-25 7 250-70M-24 7 240-70M-23 7 230-70M-22 7 220-70M-21 7 210-70M-20 7 200-70M-19 7 190-70M-18 7 180-70M-17 7 170-70M-16 7 160-70M-15 7 150-70M-14 7 140-70M-13 7 130-70M-12 7 120-70M-11 7 110-70M-10 7 100-70M-9 7 90-70M-8 7 80-70M-7 7 70-70M-6 7 60-70M-5 7 50-70M-4 7 40-70M-3 7 30-70M-2 7 20-70M-1 7 10-70M0 7 0-700M1 7-100-700M2 7-200-700M3 7-300-700M4 7-400-700M5 7-500-700M6 7-600-700M7 7-700-700M8 7-800-700M9 7-900-700M10 7-1000-700"/>
<path d="M-50 8 500-80M-49 8 490-80M-48 8 480-80M-47 8 470-80M-46 8 460-80M-45 8 450-80M-44 8 440-80M-43 8 430-80M-42 8 420-80M-41 8 410-80M-40 8 400-80M-39 8 390-80M-38 8 380-80M-37 8 370-80M-36 8 360-80M-35 8 350-80M-34 8 340-80M-33 8 330-80M-32 8 320-80M-31 8 310-80M-30 8 300-80M-29 8 290-80M-28 8 280-80M-27 8 270-80M-26 8 260-80M-25 8 250-80M-24 8 240-80M-23 8 230-80M-22 8 220-80M-21 8 210-80M-20 8 200-80M-19 8 190-80M-18 8 180-80M-17 8 170-80M-16 8 160-80M-15 8 150-80M-14 8 140-80M-13 8 130-80M-12 8 120-80M-11 8 110-80M-10 8 100-80M-9 8 90-80M-8 8 80-80M-7 8 70-80M-6 8 60-80M-5 8 50-80M-4 8 40-80M-3 8 30-80M-2 8 20-80M-1 8 10-80M0 8 0-800M1 8-100-800M2 8-200-800M3 8-300-800M4 8-400-800M5 8-500-800M6 8-600-800M7 8-700-800M8 8-800-800M9 8-900-800M10 8-1000-800"/>
<path d="M-50 9 500-90M-49 9 490-90M-48 9 480-90M-47 9 470-90M-46 9 460-90M-45 9 450-90M-44 9 440-90M-43 9 430-90M-42 9 420-90M-41 9 410-90M-40 9 400-90M-39 9 390-90M-38 9 380-90M-37 9 370-90M-36 9 360-90M-35 9 350-90M-34 9 340-90M-33 9 330-90M-32 9 320-90M-31 9 310-90M-30 9 300-90M-29 9 290-90M-28 9 280-90M-27 9 270-90M-26 9 260-90M-25 9 250-90M-24 9 240-90M-23 9 230-90M-22 9 220-90M-21 9 210-90M-20 9 200-90M-19 9 190-90M-18 9 180-90M-17 9 170-90M-16 9 160-90M-15 9 150-90M-14 9 140-90M-13 9 130-90M-12 9 120-90M-11 9 110-90M-10 9 100-90M-9 9 90-90M-8 9 80-90M-7 9 70-90M-6 9 60-90M-5 9 50-90M-4 9 40-90M-3 9 30-90M-2 9 20-90M-1 9 10-90M0 9 0-900M1 9-100-900M2 9-200-900M3 9-300-900M4 9-400-900M5 9-500-900M6 9-600-900M7 9-700-900M8 9-800-900M9 9-900-900M10 9-1000-900"/>
<path d="M-50 10 500-100M-49 10 490-100M-48 10 480-100M-47 10 470-100M-46 10 460-100M-45 10 450-100M-44 10 440-100M-43 10 430-100M-42 10 420-100M-41 10 410-100M-40 10 400-100M-39 10 390-100M-38 10 380-100M-37 10 370-100M-36 10 360-100M-35 10 350-100M-34 10 340-100M-33 10 330-100M-32 10 320-100M-31 10 310-100M-30 10 300-100M-29 10 290-100M-28 10 280-100M-27 10 270-100M-26 10 260-100M-25 10 250-100M-24 10 240-100M-23 10 230-100M-22 10 220-100M-21 10 210-100M-20 10 200-100M-19 10 190-100M-18 10 180-100M-17 10 170-100M-16 10 160-100M-15 10 150-100M-14 10 140-100M-13 10 130-100M-12 10 120-100M-11 10 110-100M-10 10 100-100M-9 10 90-100M-8 10 80-100M-7 10 70-100M-6 10 60-100M-5 10 50-100M-4 10 40-100M-3 10 30-100M-2 10 20-100M-1 10 10-100M0 10 0-1000M1 10-100-1000M2 10-200-1000M3 10-300-1000M4 10-400-1000M5 10-500-1000M6 10-600-1000M7 10-700-1000M8 10-800-1000M9 10-900-1000M10 10-1000-1000"/>
</g>
<g id="near-obstacles" class="c" transform="translate(808 487.3) scale(16)">
<path d="M-19-14l1 0"/><path d="M-21-14l-1 0"/><path d="M-19-22l1-4"/><path d="M-21-22l-1-4"/>
<path d="M-16-17l4 1"/><path d="M-16-19l4-1"/><path d="M-24-17l-4 1"/><path d="M-24-19l-4-1"/>
<path d="M-17-15l1 1"/><path d="M-17-21l1-1"/><path d="M-23-15l-1 1"/><path d="M-23-21l-1-1"/>
<path d="M-18-14l4.28.61"/><path d="M-22-14l-2.65.54"/><path d="M-18-22l2.37-2.72"/><path d="M-22-22l-1.03-2.78"/>
<path d="M-16-16l4.2 2.45"/><path d="M-16-20l4.11-.96"/><path d="M-24-16l-2.66 2.29"/><path d="M-24-20l-2.72-1.1"/>
<path d="M-27-6l1 4"/><path d="M-29-6l-1 4"/><path d="M-27-14l1-4"/><path d="M-29-14l-1-4"/>
<path d="M-24-9l0 1"/><path d="M-24-11l0-1"/><path d="M-32-9l-4 1"/><path d="M-32-11l-4-1"/>
<path d="M-25-7l1 1"/><path d="M-25-13l1-1"/><path d="M-31-7l-1 1"/><path d="M-31-13l-1-1"/>
<path d="M-26-6l2.71 3.71"/><path d="M-30-6l-.76 3.69"/><path d="M-26-14l2.62-3.02"/><path d="M-30-14l-.83-3.07"/>
<path d="M-24-8l.95 3.81"/><path d="M-24-12l.89-3.04"/><path d="M-32-8l-2.52 1.98"/><path d="M-32-12l-2.55-1.39"/>
<path d="M-19-6l1 4"/><path d="M-21-6l-1 4"/><path d="M-16-9l4 1"/><path d="M-16-11l4-1"/>
<path d="M-17-7l1 1"/><path d="M-17-13l1-1"/><path d="M-23-7l-1 1"/><path d="M-23-13l-1-1"/>
<path d="M-18-6l2.69 3.81"/><path d="M-22-6l-.78 3.75"/><path d="M-16-8l4.38 2.19"/><path d="M-16-12l4.29-1.14"/>
</g>
<path id="frame" d="M6.5 646V6H964" fill="none" stroke="#000" stroke-width="2"/>
<g id="label">
<line x1="553.5" y1="191.7" x2="462" y2="245.5" stroke="#000" stroke-width="2"/>
<polygon points="440,258.3 467,231 461.6,245.6 478,249" fill="#000"/>
<rect x="557.5" y="146.5" width="280.5" height="44.5" fill="#fff" stroke="#000" stroke-width="1.5"/>
<text x="560" y="181" font-family="DejaVu Sans, sans-serif" font-size="37">Puit attracteur</text>
</g>
</svg>
